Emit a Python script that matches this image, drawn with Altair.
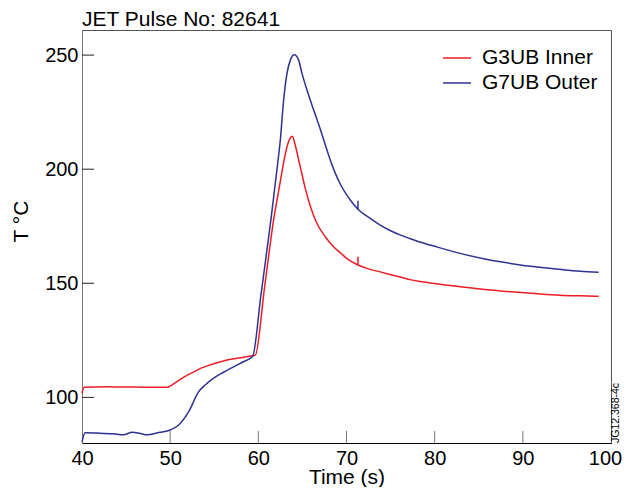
import altair as alt
import pandas as pd

# ---- data ----
series_names = ["G3UB Inner", "G7UB Outer"]
series_colors = ["#ED1C24", "#2E3192"]

inner_time = [40.0, 40.25, 43.0, 46.0, 49.65, 50.6, 51.6, 52.7, 53.5, 54.2, 55.3, 56.45,
              57.8, 59.3, 59.66, 60.7, 61.73, 62.49, 62.87, 63.3, 63.6, 63.82, 64.0,
              64.19, 64.76, 65.33, 65.9, 66.65, 67.6, 68.53, 69.3, 70.05, 71.3,
              72.5, 73.82, 75.5, 77.2, 78.4, 80.0, 82.9, 85.7, 88.6, 91.4, 94.2,
              96.5, 98.6]
inner_temp = [101.8, 104.4, 104.6, 104.5, 104.4, 106.5, 109.0, 111.2, 112.8, 113.8, 115.2,
              116.4, 117.3, 118.2, 118.5, 148.0, 177.7, 194.5, 203.0, 210.5, 213.5, 214.4,
              213.3, 210.5, 201.0, 191.5, 183.8, 176.2, 170.4, 166.0, 163.4, 160.8, 158.0,
              156.3, 155.0, 153.3, 151.6, 150.8, 149.9, 148.5, 147.3, 146.3,
              145.5, 144.8, 144.5, 144.3]

outer_time = [40.0, 40.35, 42.0, 43.5, 44.7, 45.7, 46.5, 47.4, 48.5, 50.0, 51.0, 52.1,
              53.2, 54.0, 54.9, 56.0, 57.2, 58.3, 59.35, 60.3, 61.4, 62.1, 62.5, 62.87,
              63.25, 63.63, 64.08, 64.57, 64.95, 65.52, 66.27, 67.03, 67.5, 68.16, 68.7,
              69.29, 70.43, 71.3, 72.7, 73.82, 75.0, 76.2, 77.2, 78.4, 80.0,
              82.9, 85.7, 88.6, 91.4, 94.2, 96.5, 98.6]
outer_temp = [80.5, 84.5, 84.3, 84.0, 83.6, 84.7, 84.3, 83.6, 84.4, 85.7, 88.0, 93.7,
              102.3, 105.5, 108.3, 110.9, 113.4, 115.6, 117.9, 145.0, 177.0, 199.5, 213.0,
              230.3, 242.0, 247.8, 250.1, 247.8, 242.0, 234.7, 226.0, 217.5, 211.8, 204.0,
              198.5, 193.5, 186.5, 182.4, 178.4, 175.5, 173.0, 171.0, 169.6,
              168.0, 166.2, 163.1, 160.6, 158.7, 157.2, 156.1, 155.3, 154.8]

# small vertical glitches on both traces near t = 71.3 s
spike_time = [71.3, 71.3]
spike_low = [158.0, 182.4]
spike_high = [161.6, 186.2]

x_ticks = [40, 50, 60, 70, 80, 90, 100]
y_ticks = [100, 150, 200, 250]
title_text = ["JET Pulse No: 82641"]
x_title = "Time (s)"
y_title = "T °C"
stamp_text = ["JG12.368-4c"]

# ---- build tables ----
rows = []
for i, (t, v) in enumerate(zip(inner_time, inner_temp)):
    rows.append({"time": t, "temp": v, "series": series_names[0], "idx": i})
for i, (t, v) in enumerate(zip(outer_time, outer_temp)):
    rows.append({"time": t, "temp": v, "series": series_names[1], "idx": i})
df = pd.DataFrame(rows)

spike_df = pd.DataFrame({"time": spike_time, "low": spike_low, "high": spike_high,
                         "series": series_names})

W, H = 529, 413
FONT = "Liberation Sans"

xscale = alt.Scale(domain=[40, 100], nice=False, zero=False)
yscale = alt.Scale(domain=[80, 261], nice=False, zero=False)
cscale = alt.Scale(domain=series_names, range=series_colors)

lines = alt.Chart(df).mark_line(strokeWidth=1.5, interpolate="monotone").encode(
    x=alt.X("time:Q", scale=xscale,
            axis=alt.Axis(values=x_ticks, title=x_title, ticks=False, grid=False,
                          labelFlush=False,
                          labelOffset={"condition": {"test": "datum.value == 100", "value": -6},
                                       "value": 0},
                          domainColor="#000000", labelFontSize=20, labelPadding=5,
                          titleFontSize=21, titleFontWeight="normal",
                          titleY=40, titleBaseline="alphabetic",
                          labelColor="#000", titleColor="#000")),
    y=alt.Y("temp:Q", scale=yscale,
            axis=alt.Axis(values=y_ticks, title=y_title, ticks=False, grid=False,
                          domainColor="#777777", labelFontSize=20, labelPadding=4,
                          titleFontSize=21, titleFontWeight="normal",
                          titleX=-55, titleY=191, titleAngle=270,
                          titleAlign="center", titleBaseline="alphabetic",
                          labelColor="#000", titleColor="#000")),
    color=alt.Color("series:N", scale=cscale,
                    legend=alt.Legend(title=None, orient="none", legendX=360, legendY=13,
                                      symbolType="stroke", symbolSize=784,
                                      symbolStrokeWidth=1.5, labelFontSize=21,
                                      labelOffset=10, rowPadding=-4, padding=0,
                                      labelColor="#000")),
    order=alt.Order("idx:Q"),
)

spikes = alt.Chart(spike_df).mark_rule(strokeWidth=1.5).encode(
    x=alt.X("time:Q", scale=xscale),
    y=alt.Y("low:Q", scale=yscale),
    y2="high:Q",
    color=alt.Color("series:N", scale=cscale, legend=None),
)

ytick_df = pd.DataFrame({"v": y_ticks})
xtick_df = pd.DataFrame({"v": x_ticks[1:-1]})

yticks = alt.Chart(ytick_df).mark_rule(color="#222222", strokeWidth=1).encode(
    y=alt.Y("v:Q", scale=yscale),
    x=alt.value(0), x2=alt.value(12),
)
xticks = alt.Chart(xtick_df).mark_rule(color="#777777", strokeWidth=1).encode(
    x=alt.X("v:Q", scale=xscale),
    y=alt.value(H), y2=alt.value(H - 12),
)

stamp = alt.Chart(pd.DataFrame({"label": stamp_text})).mark_text(
    angle=270, align="left", baseline="middle", fontSize=10.5, font=FONT, color="#000"
).encode(
    text="label:N",
    x=alt.value(W + 5), y=alt.value(H),
)

title = alt.Chart(pd.DataFrame({"label": title_text})).mark_text(
    align="left", baseline="alphabetic", fontSize=21, font=FONT, color="#000"
).encode(
    text="label:N",
    x=alt.value(0), y=alt.value(-4),
)

chart = alt.layer(lines, spikes, yticks, xticks, stamp, title).properties(
    width=W, height=H,
    autosize=alt.AutoSizeParams(type="none"),
    padding={"left": 74, "top": 22, "right": 11, "bottom": 44},
).configure(
    font=FONT,
).configure_view(
    stroke="#555555", strokeWidth=1,
).configure_axis(
    labelFont=FONT, titleFont=FONT, domainWidth=1,
).configure_legend(
    labelFont=FONT,
)

chart.save("out.html", embed_options={"renderer": "svg", "actions": False})
